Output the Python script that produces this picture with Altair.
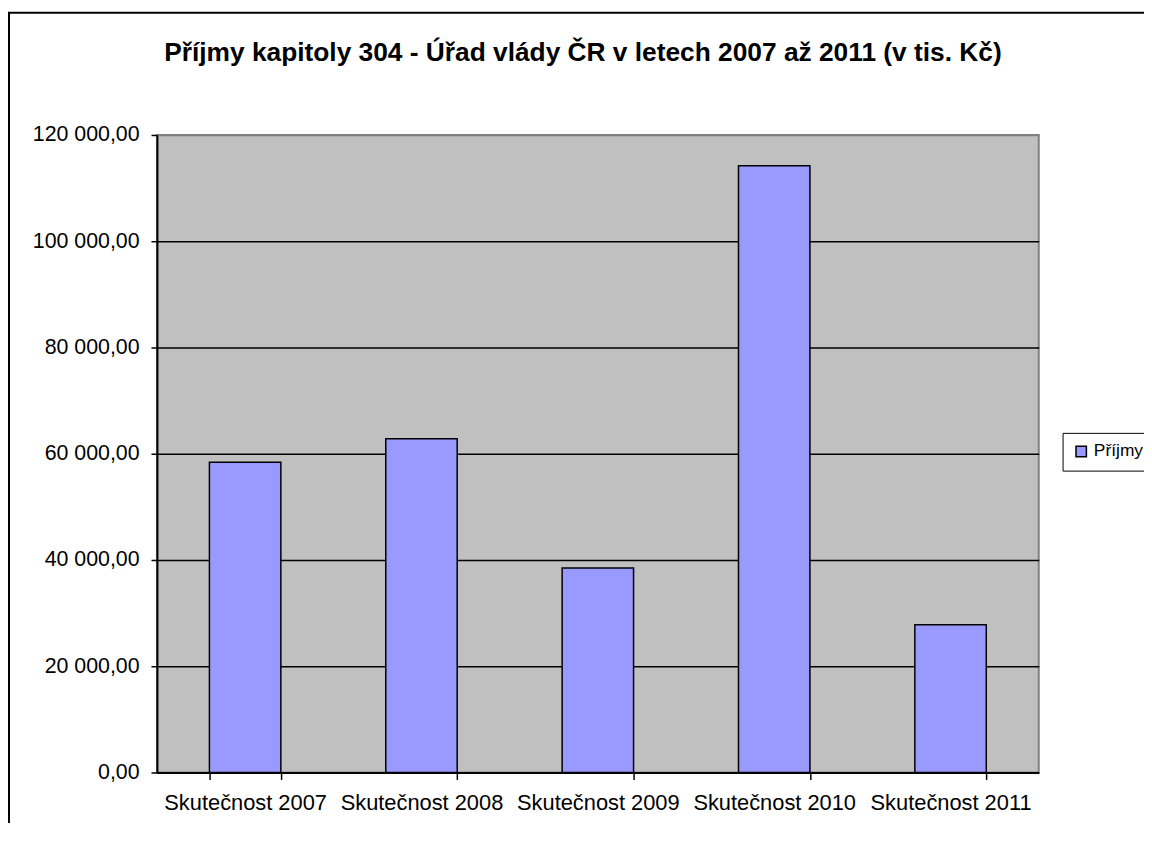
import altair as alt
import pandas as pd

categories = ["Skutečnost 2007", "Skutečnost 2008", "Skutečnost 2009", "Skutečnost 2010", "Skutečnost 2011"]
values = [58400, 62800, 38500, 114200, 27800]
series = ["Příjmy"] * 5
y_ticks = [0, 20000, 40000, 60000, 80000, 100000, 120000]
title_text = ["Příjmy kapitoly 304 - Úřad vlády ČR v letech 2007 až 2011 (v tis. Kč)"]

FONT = "Liberation Sans"

df = pd.DataFrame({"kat": categories, "hodnota": values, "rada": series})
frame_df = pd.DataFrame({"a": [1]})
title_df = pd.DataFrame({"t": title_text})

bars = alt.Chart(df).mark_bar(stroke="black", strokeWidth=1.5).encode(
    x=alt.X("kat:N", sort=categories, title=None,
            scale=alt.Scale(paddingInner=0.595, paddingOuter=0.2975),
            axis=alt.Axis(labelAngle=0, tickBand="extent", labelFont=FONT, labelFontSize=22,
                          labelColor="black", tickColor="black", tickSize=7, tickWidth=1.5,
                          domainColor="black", domainWidth=2, labelPadding=13, grid=False)),
    y=alt.Y("hodnota:Q", title=None,
            scale=alt.Scale(domain=[0, 120000], nice=False),
            axis=alt.Axis(values=y_ticks, format=",.2f", labelFont=FONT, labelFontSize=21.5,
                          labelColor="black", tickColor="black", tickSize=6, tickWidth=1.5,
                          domainColor="black", domainWidth=2, labelPadding=12,
                          grid=True, gridWidth=1.5,
                          gridColor=alt.expr("datum.value == 120000 ? '#808080' : 'black'"))),
    color=alt.Color("rada:N", scale=alt.Scale(range=["#9999FF"]),
                    legend=alt.Legend(title=None, orient="none", legendX=912, legendY=300,
                                      strokeColor="black", padding=10,
                                      symbolType="square", symbolSize=110,
                                      symbolStrokeColor="black", symbolStrokeWidth=1.5,
                                      labelFont=FONT, labelFontSize=17.5, labelColor="black",
                                      labelOffset=4, fillColor="white")),
)

frame = alt.Chart(frame_df).mark_rect(fillOpacity=0, stroke="black", strokeWidth=2).encode(
    x=alt.value(-149), x2=alt.value(1200), y=alt.value(-123), y2=alt.value(900)
)

title = alt.Chart(title_df).mark_text(
    font=FONT, fontSize=26.5, fontWeight="bold", color="black",
    align="center", baseline="alphabetic"
).encode(
    text="t:N", x=alt.value(429), y=alt.value(-74)
)

chart = alt.layer(bars, frame, title).properties(
    width=888, height=642,
    autosize=alt.AutoSizeParams(type="none"),
    padding={"left": 150, "top": 125, "right": 106, "bottom": 48},
).configure(
    locale={"number": {"decimal": ",", "thousands": " ", "grouping": [3], "currency": ["", ""]}}
).configure_view(
    fill="#C0C0C0", stroke="#808080", strokeWidth=2
)

chart.save("out.html", embed_options={"renderer": "svg", "actions": False})
